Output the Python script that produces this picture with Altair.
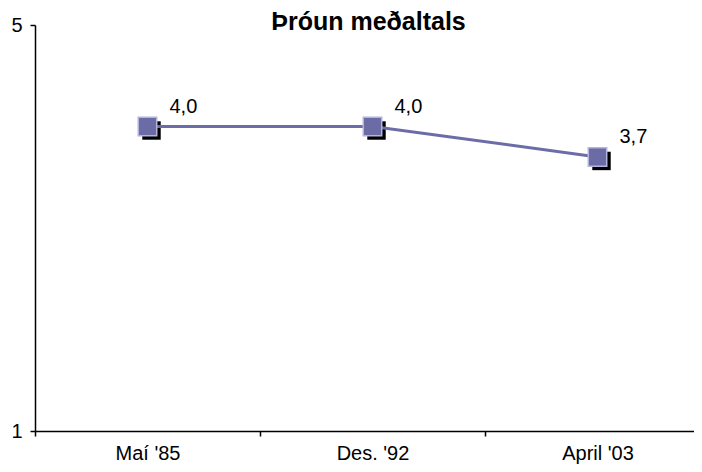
import altair as alt
import pandas as pd

categories = ["Maí '85", "Des. '92", "April '03"]
values = [4.0, 4.0, 3.7]
title_text = "Þróun meðaltals"

df = pd.DataFrame({
    "cat": categories,
    "val": values,
    "label": [f"{v:.1f}".replace(".", ",") for v in values],
})

FONT = "Liberation Sans"
x = alt.X("cat:N", sort=categories,
          scale=alt.Scale(range=[0, 675], paddingInner=0, paddingOuter=0),
          axis=alt.Axis(title=None, labelAngle=0, tickBand="extent", tickSize=5,
                        labelPadding=7, labelFontSize=20, labelFont=FONT,
                        labelColor="black", domainColor="black", tickColor="black",
                        domainWidth=1.5, tickWidth=1.5, grid=False))
y = alt.Y("val:Q", scale=alt.Scale(domain=[1, 5], nice=False, zero=False),
          axis=alt.Axis(title=None, values=[1, 5], tickSize=5, labelPadding=8,
                        labelFontSize=20, labelFont=FONT, labelColor="black",
                        domainColor="black", tickColor="black",
                        domainWidth=1.5, tickWidth=1.5, grid=False))

base = alt.Chart(df).encode(x=x, y=y)

shadow = base.mark_square(size=340, color="black", opacity=1, xOffset=4, yOffset=4)
line = base.mark_line(color="#6c6ca8", strokeWidth=3)
pts = base.mark_square(size=340, fill="#6b6ba6", stroke="#b4b4dc", strokeWidth=1.5,
                       opacity=1, filled=True)
labels = base.mark_text(align="left", baseline="middle", dx=22, dy=-20,
                        fontSize=20, font=FONT, color="black").encode(text="label:N")

chart = alt.layer(shadow, line, pts, labels).properties(
    width=659, height=406,
    title=alt.TitleParams(title_text, font=FONT, fontSize=25, fontWeight="bold",
                          anchor="middle", color="black", offset=0, dy=20, dx=4),
    autosize=alt.AutoSizeParams(type="none"),
    padding={"left": 27, "top": 17, "right": 0, "bottom": 33},
).configure_view(stroke=None)

chart.save("out.html", embed_options={"renderer": "svg", "actions": False})
